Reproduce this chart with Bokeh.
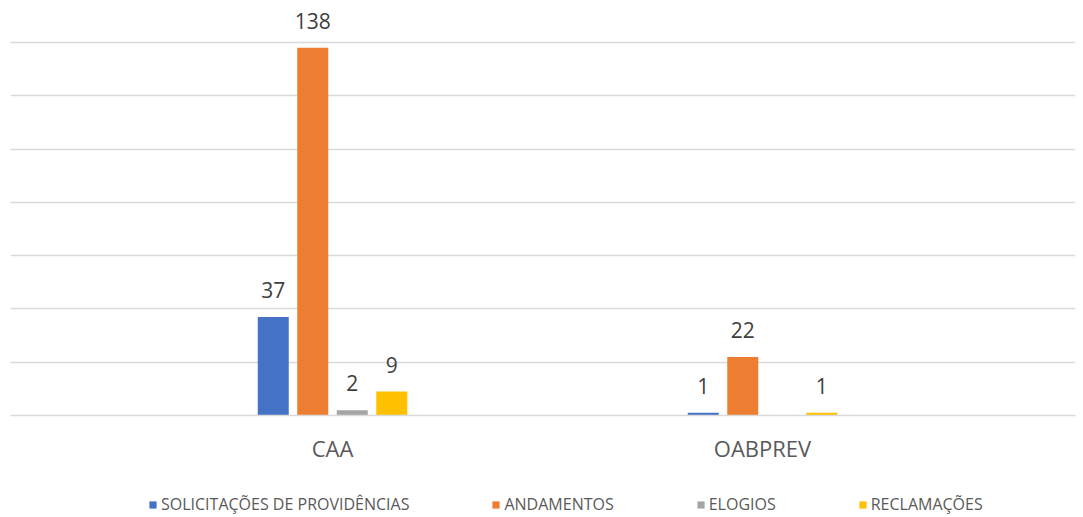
from bokeh.plotting import figure
from bokeh.models import (ColumnDataSource, Range1d, FixedTicker, Legend, LegendItem)
from bokeh.layouts import column
from bokeh.transform import dodge
from bokeh.core.properties import value
from bokeh.embed import file_html
from bokeh.resources import INLINE

categories = ["CAA", "OABPREV"]
series_names = ["SOLICITAÇÕES DE PROVIDÊNCIAS", "ANDAMENTOS", "ELOGIOS", "RECLAMAÇÕES"]
solicitacoes = [37, 1]
andamentos = [138, 22]
elogios = [2, 0]
reclamacoes = [9, 1]
colors = ["#4472C4", "#ED7D31", "#A5A5A5", "#FFC000"]
y_ticks = [0, 20, 40, 60, 80, 100, 120, 140]

series = [solicitacoes, andamentos, elogios, reclamacoes]
xpos = list(range(len(categories)))
data = {"x": xpos}
for i, s in enumerate(series):
    data[f"s{i}"] = s
    data[f"l{i}"] = [str(v) if v else "" for v in s]
source = ColumnDataSource(data)

FONT = "Open Sans"
px_per_unit = 430.0
frame_w = 1065
start = -322.0 / px_per_unit
end = start + frame_w / px_per_unit

# vertical: 0..140 spans 373 px; frame extends above 140 so labels are not clipped
top_border = 5
bottom_border = 55
fig_h = 470
frame_h = fig_h - top_border - bottom_border
y_end = frame_h * 140.0 / 373.0

p = figure(width=1083, height=fig_h, output_backend="svg", toolbar_location=None,
           x_range=Range1d(start, end), y_range=Range1d(0, y_end),
           min_border_left=10, min_border_right=8, min_border_top=top_border,
           min_border_bottom=bottom_border)
p.outline_line_color = None
p.background_fill_color = "white"
p.border_fill_color = "white"

pitch = 39.5 / px_per_unit
bw = 31.0 / px_per_unit
offsets = [-1.5 * pitch, -0.5 * pitch, 0.5 * pitch, 1.5 * pitch]

renderers = []
for i in range(4):
    r = p.vbar(x=dodge("x", offsets[i], range=p.x_range), top=f"s{i}", width=bw,
               source=source, fill_color=colors[i], line_color=None)
    renderers.append(r)
    p.text(x=dodge("x", offsets[i], range=p.x_range), y=f"s{i}", text=f"l{i}", source=source,
           text_align="center", text_baseline="alphabetic", y_offset=-27,
           text_font=value(FONT), text_font_size="21px", text_color="#404040")

p.yaxis.visible = False
p.xgrid.visible = False
p.ygrid.ticker = FixedTicker(ticks=y_ticks)
p.ygrid.grid_line_color = "#D9D9D9"
p.ygrid.grid_line_width = 1.5

xa = p.xaxis[0]
xa.ticker = FixedTicker(ticks=xpos)
xa.major_label_overrides = {i: c for i, c in enumerate(categories)}
xa.axis_line_color = "#D9D9D9"
xa.axis_line_width = 1.5
xa.major_tick_line_color = None
xa.minor_tick_line_color = None
xa.major_tick_out = 0
xa.major_label_standoff = 17
xa.major_label_text_font = FONT
xa.major_label_text_font_size = "22px"
xa.major_label_text_color = "#595959"

# legend strip below the chart (swatch renderers have zero size, nothing drawn)
lg = figure(width=1083, height=45, output_backend="svg", toolbar_location=None,
            x_range=Range1d(0, 1), y_range=Range1d(0, 1),
            x_axis_location=None, y_axis_location=None,
            min_border_left=0, min_border_right=0, min_border_top=0, min_border_bottom=0)
lg.outline_line_color = None
lg.xgrid.visible = False
lg.ygrid.visible = False
lg_renderers = [lg.vbar(x=[0.5], top=[0], bottom=[0], width=0, fill_color=colors[i], line_color=None)
                for i in range(4)]
legend = Legend(items=[LegendItem(label=series_names[i], renderers=[lg_renderers[i]]) for i in range(4)],
                orientation="horizontal", location=(138, 0),
                label_text_font=FONT, label_text_font_size="16px", label_text_color="#595959",
                glyph_width=9, glyph_height=9, label_standoff=4, spacing=82,
                padding=0, margin=0, border_line_color=None, background_fill_alpha=0)
lg.add_layout(legend, "center")

layout = column(p, lg, spacing=0)
open("out.html", "w").write(file_html(layout, INLINE))
